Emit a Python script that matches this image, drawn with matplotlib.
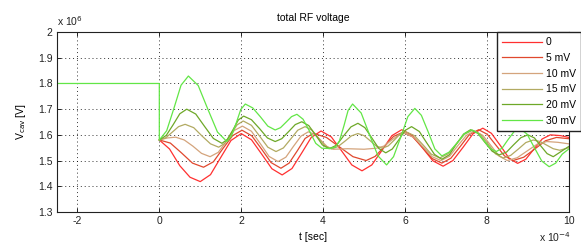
import matplotlib
matplotlib.use("Agg")
import matplotlib.pyplot as plt

plt.rcParams.update({
    "font.family": ["Liberation Sans", "DejaVu Sans"],
    "font.size": 7,
    "xtick.direction": "in",
    "ytick.direction": "in",
    "xtick.top": True,
    "ytick.right": True,
    "xtick.major.size": 3,
    "ytick.major.size": 3,
})

# ── Data (t in 1e-4 s, V in 1e6 V) ──────────────────────────────────────────
labels = ["0", "5 mV", "10 mV", "15 mV", "20 mV", "30 mV"]
colors = ["#ff3030", "#e0482e", "#d4a47c", "#b2aa62", "#6ea828", "#62e646"]

t_0 = [0, 0.25, 0.5, 0.75, 1.0, 1.25, 1.5, 1.75, 2.0, 2.25, 2.5, 2.75, 3.0,
       3.24, 3.48, 3.71, 3.95, 4.2, 4.45, 4.7, 4.95, 5.19, 5.44, 5.68, 5.92,
       6.17, 6.43, 6.68, 6.93, 7.17, 7.42, 7.66, 7.9, 8.11, 8.33, 8.54, 8.75,
       8.95, 9.15, 9.35, 9.55, 9.8, 10.0]
v_0 = [1.58, 1.545, 1.48, 1.435, 1.418, 1.445, 1.512, 1.578, 1.605, 1.581, 1.525,
       1.468, 1.444, 1.469, 1.53, 1.59, 1.615, 1.592, 1.538, 1.483, 1.46, 1.483,
       1.54, 1.597, 1.62, 1.599, 1.549, 1.499, 1.478, 1.5, 1.552, 1.604, 1.626,
       1.606, 1.558, 1.509, 1.489, 1.505, 1.545, 1.584, 1.60, 1.597, 1.59]

t_5 = [0, 0.27, 0.54, 0.81, 1.08, 1.32, 1.55, 1.79, 2.02, 2.26, 2.5, 2.73, 2.97,
       3.17, 3.37, 3.56, 3.76, 4.08, 4.4, 4.73, 5.05, 5.27, 5.5, 5.72, 5.95,
       6.19, 6.43, 6.66, 6.9, 7.12, 7.35, 7.57, 7.8, 8.01, 8.22, 8.43, 8.64,
       8.9, 9.17, 9.43, 9.7, 10.0]
v_5 = [1.58, 1.568, 1.53, 1.49, 1.474, 1.495, 1.546, 1.597, 1.618, 1.596, 1.544,
       1.492, 1.47, 1.49, 1.538, 1.586, 1.606, 1.59, 1.553, 1.515, 1.50, 1.516,
       1.555, 1.594, 1.61, 1.592, 1.55, 1.508, 1.49, 1.509, 1.555, 1.601, 1.62,
       1.602, 1.56, 1.518, 1.50, 1.513, 1.545, 1.577, 1.59, 1.585]

t_10 = [0, 0.2, 0.4, 0.61, 0.82, 1.03, 1.24, 1.44, 1.64, 1.83, 2.03, 2.25, 2.47,
        2.68, 2.9, 3.09, 3.27, 3.46, 3.64, 3.79, 3.95, 4.1, 4.25, 4.6, 5.0, 5.3,
        5.48, 5.65, 5.83, 6.0, 6.22, 6.44, 6.66, 6.88, 7.09, 7.29, 7.5, 7.7,
        7.9, 8.1, 8.3, 8.5, 8.74, 8.98, 9.22, 9.46, 9.73, 10.0]
v_10 = [1.58, 1.588, 1.591, 1.58, 1.556, 1.528, 1.515, 1.532, 1.575, 1.617, 1.634,
        1.614, 1.565, 1.516, 1.496, 1.513, 1.554, 1.595, 1.612, 1.602, 1.578,
        1.554, 1.544, 1.546, 1.544, 1.548, 1.556, 1.577, 1.598, 1.606, 1.59,
        1.553, 1.515, 1.50, 1.517, 1.558, 1.598, 1.615, 1.598, 1.558, 1.517,
        1.50, 1.511, 1.537, 1.563, 1.574, 1.571, 1.565]

t_15 = [0, 0.16, 0.32, 0.47, 0.63, 0.84, 1.04, 1.25, 1.45, 1.6, 1.75, 1.9, 2.05,
        2.25, 2.45, 2.65, 2.85, 3.03, 3.21, 3.38, 3.56, 3.72, 3.88, 4.04, 4.2,
        4.36, 4.53, 4.69, 4.85, 5.0, 5.15, 5.3, 5.45, 5.59, 5.74, 5.88, 6.02,
        6.23, 6.44, 6.64, 6.85, 7.05, 7.25, 7.45, 7.65, 7.84, 8.03, 8.21, 8.4,
        8.58, 8.77, 8.95, 9.13, 9.3, 9.46, 9.62, 9.78, 10.0]
v_15 = [1.58, 1.589, 1.611, 1.632, 1.641, 1.628, 1.596, 1.565, 1.552, 1.567, 1.603,
        1.639, 1.654, 1.637, 1.595, 1.552, 1.535, 1.549, 1.584, 1.618, 1.632,
        1.619, 1.589, 1.558, 1.545, 1.554, 1.575, 1.596, 1.605, 1.597, 1.577,
        1.556, 1.548, 1.557, 1.58, 1.603, 1.612, 1.597, 1.561, 1.525, 1.51,
        1.526, 1.564, 1.602, 1.618, 1.602, 1.564, 1.526, 1.51, 1.52, 1.545,
        1.57, 1.58, 1.574, 1.56, 1.546, 1.54, 1.55]

t_20 = [0, 0.17, 0.34, 0.5, 0.67, 0.89, 1.1, 1.32, 1.53, 1.66, 1.8, 1.93, 2.06,
        2.25, 2.45, 2.64, 2.83, 2.99, 3.16, 3.32, 3.48, 3.65, 3.82, 3.98, 4.15,
        4.33, 4.5, 4.68, 4.85, 5.02, 5.19, 5.36, 5.53, 5.69, 5.85, 6.0, 6.16,
        6.35, 6.53, 6.72, 6.9, 7.08, 7.25, 7.43, 7.6, 7.78, 7.95, 8.13, 8.3,
        8.48, 8.65, 8.83, 9.0, 9.16, 9.31, 9.47, 9.62, 9.81, 10.0]
v_20 = [1.58, 1.598, 1.64, 1.682, 1.70, 1.681, 1.634, 1.586, 1.567, 1.582, 1.62,
        1.658, 1.673, 1.659, 1.624, 1.588, 1.574, 1.585, 1.613, 1.64, 1.651,
        1.636, 1.599, 1.561, 1.546, 1.56, 1.596, 1.631, 1.645, 1.628, 1.588,
        1.547, 1.53, 1.545, 1.581, 1.617, 1.632, 1.613, 1.569, 1.524, 1.505,
        1.522, 1.563, 1.603, 1.62, 1.606, 1.571, 1.536, 1.522, 1.533, 1.561,
        1.589, 1.60, 1.588, 1.558, 1.527, 1.515, 1.535, 1.555]

# 30 mV trace also carries the pre-trigger level (t < 0)
t_30 = [-2.5, 0, 0, 0.18, 0.36, 0.53, 0.71, 0.95, 1.18, 1.42, 1.65, 1.76, 1.88, 1.99, 2.1,
        2.28, 2.47, 2.65, 2.83, 2.96, 3.1, 3.23, 3.36, 3.51, 3.67, 3.82, 3.97,
        4.15, 4.3, 4.4, 4.51, 4.61, 4.72, 4.93, 5.13, 5.34, 5.55, 5.72, 5.9,
        6.07, 6.24, 6.4, 6.57, 6.73, 6.9, 7.08, 7.27, 7.45, 7.63, 7.78, 7.93,
        8.08, 8.23, 8.37, 8.51, 8.66, 8.8, 8.98, 9.16, 9.34, 9.52, 9.68, 9.84, 10.0]
v_30 = [1.8, 1.8, 1.58, 1.616, 1.705, 1.793, 1.829, 1.792, 1.702, 1.611, 1.574, 1.595, 1.647,
        1.699, 1.72, 1.705, 1.67, 1.634, 1.619, 1.628, 1.65, 1.671, 1.68, 1.661,
        1.614, 1.567, 1.548, 1.547, 1.552, 1.577, 1.636, 1.695, 1.72, 1.685,
        1.602, 1.518, 1.483, 1.515, 1.593, 1.671, 1.703, 1.676, 1.61, 1.545,
        1.518, 1.533, 1.568, 1.604, 1.619, 1.607, 1.577, 1.547, 1.535, 1.548,
        1.58, 1.612, 1.625, 1.603, 1.55, 1.498, 1.476, 1.49, 1.525, 1.545]

series_t = [t_0, t_5, t_10, t_15, t_20, t_30]
series_v = [v_0, v_5, v_10, v_15, v_20, v_30]

x_ticks = [-2, 0, 2, 4, 6, 8, 10]
y_ticks = [1.3, 1.4, 1.5, 1.6, 1.7, 1.8, 1.9, 2.0]
y_ticklabels = ["1.3", "1.4", "1.5", "1.6", "1.7", "1.8", "1.9", "2"]

# ── Figure ───────────────────────────────────────────────────────────────────
fig = plt.figure(figsize=(5.81, 2.45), dpi=100)
ax = fig.add_axes([0.098, 0.135, 0.881, 0.734])

for t, v, c, lab in zip(series_t, series_v, colors, labels):
    ax.plot(t, v, color=c, linewidth=0.9, label=lab)

ax.set_xlim(-2.5, 10)
ax.set_ylim(1.3, 2.0)
ax.set_xticks(x_ticks)
ax.set_xticklabels([str(x) for x in x_ticks])
ax.set_yticks(y_ticks)
ax.set_yticklabels(y_ticklabels)
ax.grid(True, color="k", linestyle=(0, (1, 3)), linewidth=0.7, alpha=0.8)
ax.tick_params(labelsize=7.5, colors="#222222", width=0.7, pad=3)
for s in ax.spines.values():
    s.set_linewidth(0.8)
    s.set_color("#222222")

ax.set_title("total RF voltage", fontsize=7.5, pad=8)
ax.set_xlabel("t [sec]", fontsize=7.5, labelpad=4)
ax.set_ylabel("V$_{\\rm cav}$ [V]", fontsize=7.5, labelpad=7)
ax.text(0.0, 1.025, "x 10$^{6}$", transform=ax.transAxes, fontsize=7.5,
        ha="left", va="bottom", color="#222222")
fig.text(0.928, 0.004, "x 10$^{-4}$", fontsize=7.5,
         ha="left", va="bottom", color="#222222")

fig.legend(loc="upper left", bbox_to_anchor=(497 / 581, 1 - 32 / 245),
           borderaxespad=0, fontsize=7.5, frameon=True, fancybox=False,
           edgecolor="#222222", framealpha=1, handlelength=3.8,
           handletextpad=0.4, labelspacing=0.55, borderpad=0.5)

fig.savefig("out.png", dpi=100, facecolor="white")
plt.close(fig)
